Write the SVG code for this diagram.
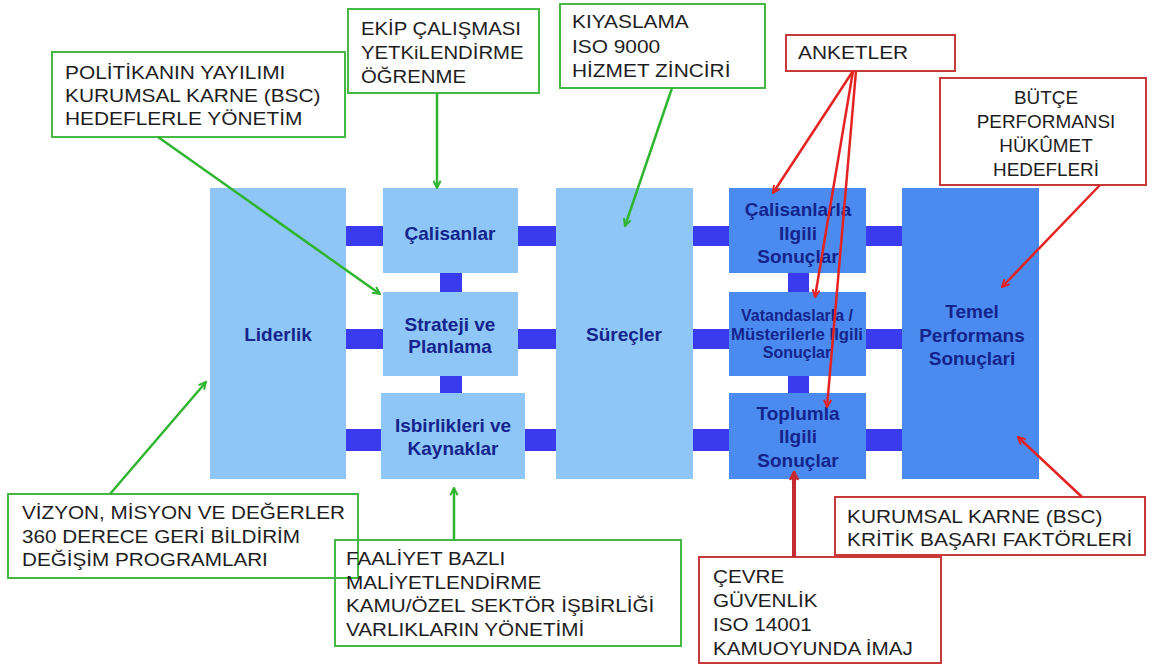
<svg xmlns="http://www.w3.org/2000/svg" width="1154" height="669" viewBox="0 0 1154 669">
<style>
.blk{fill:#8DC6F7}
.res{fill:#4B8BF0}
.bar{fill:#3A3AEE}
.bt{font-family:"Liberation Sans",Arial,sans-serif;font-weight:bold;font-size:19px;fill:#14248c;text-anchor:middle}
.bs{font-size:16px}
.gbox{fill:none;stroke:#45b845;stroke-width:2}
.rbox{fill:none;stroke:#c83a3a;stroke-width:2}
.lt{font-family:"Liberation Sans",Arial,sans-serif;font-size:18px;fill:#1e1e1e}
.gl{stroke:#2fb52f;stroke-width:2.5;fill:none}
.rl{stroke:#e52222;stroke-width:2.5;fill:none}
.rl2{stroke:#c42a2e;stroke-width:4;fill:none}
</style>
<defs>
<marker id="ag" viewBox="0 0 10 10" refX="9" refY="5" markerWidth="9" markerHeight="9" markerUnits="userSpaceOnUse" orient="auto"><path d="M1,1 L9,5 L1,9" fill="none" stroke="#2fb52f" stroke-width="2.2"/></marker>
<marker id="ar" viewBox="0 0 10 10" refX="9" refY="5" markerWidth="9" markerHeight="9" markerUnits="userSpaceOnUse" orient="auto"><path d="M1,1 L9,5 L1,9" fill="none" stroke="#e52222" stroke-width="2.2"/></marker>
<marker id="ar2" viewBox="0 0 10 10" refX="9" refY="5" markerWidth="10" markerHeight="10" markerUnits="userSpaceOnUse" orient="auto"><path d="M1,1 L9,5 L1,9" fill="none" stroke="#c42a2e" stroke-width="2.6"/></marker>
</defs>
<rect width="1154" height="669" fill="#ffffff"/>

<g id="bars">
<rect class="bar" x="346" y="226" width="37" height="20"/>
<rect class="bar" x="346" y="329" width="37" height="20"/>
<rect class="bar" x="346" y="429" width="37" height="22"/>
<rect class="bar" x="518" y="226" width="38" height="20"/>
<rect class="bar" x="518" y="329" width="38" height="20"/>
<rect class="bar" x="525" y="429" width="31" height="22"/>
<rect class="bar" x="693" y="226" width="36" height="20"/>
<rect class="bar" x="693" y="329" width="36" height="20"/>
<rect class="bar" x="693" y="429" width="36" height="22"/>
<rect class="bar" x="866" y="226" width="36" height="20"/>
<rect class="bar" x="866" y="329" width="36" height="20"/>
<rect class="bar" x="866" y="429" width="36" height="22"/>
<rect class="bar" x="440" y="273" width="22" height="19"/>
<rect class="bar" x="440" y="376" width="22" height="17"/>
<rect class="bar" x="788" y="273" width="21" height="19"/>
<rect class="bar" x="788" y="376" width="21" height="17"/>
</g>

<g id="liderlik"><rect class="blk" x="210" y="188" width="136" height="291"/><text class="bt" x="278" y="341">Liderlik</text></g>
<g id="calisanlar"><rect class="blk" x="383" y="188" width="135" height="85"/><text class="bt" x="450" y="240">Çalisanlar</text></g>
<g id="strateji"><rect class="blk" x="383" y="292" width="135" height="84"/><text class="bt" x="450" y="331">Strateji ve</text><text class="bt" x="450" y="353">Planlama</text></g>
<g id="isbirlikleri"><rect class="blk" x="381" y="393" width="144" height="86"/><text class="bt" x="453" y="432">Isbirlikleri ve</text><text class="bt" x="453" y="455">Kaynaklar</text></g>
<g id="surecler"><rect class="blk" x="556" y="188" width="137" height="291"/><text class="bt" x="624" y="341">Süreçler</text></g>
<g id="calisanlarla"><rect class="res" x="729" y="188" width="137" height="85"/><text class="bt" x="798" y="216">Çalisanlarla</text><text class="bt" x="798" y="240">Ilgili</text><text class="bt" x="798" y="263">Sonuçlar</text></g>
<g id="vatandaslarla"><rect class="res" x="729" y="292" width="137" height="84"/><text class="bt bs" x="797" y="321">Vatandaslarla /</text><text class="bt bs" x="797" y="340" textLength="132" lengthAdjust="spacingAndGlyphs">Müsterilerle Ilgili</text><text class="bt bs" x="797" y="358">Sonuçlar</text></g>
<g id="toplumla"><rect class="res" x="729" y="393" width="137" height="86"/><text class="bt" x="798" y="420">Toplumla</text><text class="bt" x="798" y="443">Ilgili</text><text class="bt" x="798" y="467">Sonuçlar</text></g>
<g id="temel"><rect class="res" x="902" y="188" width="137" height="291"/><text class="bt" x="972" y="318">Temel</text><text class="bt" x="972" y="342">Performans</text><text class="bt" x="972" y="365">Sonuçlari</text></g>

<g id="lbl-politika"><rect class="gbox" x="52" y="52" width="293" height="85"/>
<text class="lt" transform="translate(65 0) scale(1.16 1)"><tspan x="0" y="79">POLİTİKANIN YAYILIMI</tspan><tspan x="0" y="102">KURUMSAL KARNE (BSC)</tspan><tspan x="0" y="125">HEDEFLERLE YÖNETİM</tspan></text></g>
<g id="lbl-ekip"><rect class="gbox" x="348" y="9" width="191" height="84"/>
<text class="lt" transform="translate(361 0) scale(1.13 1)"><tspan x="0" y="35">EKİP ÇALIŞMASI</tspan><tspan x="0" y="59">YETKiLENDİRME</tspan><tspan x="0" y="83">ÖĞRENME</tspan></text></g>
<g id="lbl-kiyaslama"><rect class="gbox" x="560" y="4" width="205" height="84"/>
<text class="lt" transform="translate(572 0) scale(1.16 1)"><tspan x="0" y="28">KIYASLAMA</tspan><tspan x="0" y="53">ISO 9000</tspan><tspan x="0" y="77">HİZMET ZİNCİRİ</tspan></text></g>
<g id="lbl-anketler"><rect class="rbox" x="786" y="35" width="169" height="36"/>
<text class="lt" transform="translate(798 0) scale(1.16 1)"><tspan x="0" y="59">ANKETLER</tspan></text></g>
<g id="lbl-butce"><rect class="rbox" x="940" y="78" width="206" height="107"/>
<text class="lt" text-anchor="middle" transform="translate(1046 0) scale(1.05 1)"><tspan x="0" y="104">BÜTÇE</tspan><tspan x="0" y="128">PERFORMANSI</tspan><tspan x="0" y="152">HÜKÛMET</tspan><tspan x="0" y="176">HEDEFLERİ</tspan></text></g>
<g id="lbl-vizyon"><rect class="gbox" x="8" y="494" width="350" height="84"/>
<text class="lt" transform="translate(22 0) scale(1.15 1)"><tspan x="0" y="519">VİZYON, MİSYON VE DEĞERLER</tspan><tspan x="0" y="543">360 DERECE GERİ BİLDİRİM</tspan><tspan x="0" y="566">DEĞİŞİM PROGRAMLARI</tspan></text></g>
<g id="lbl-faaliyet"><rect class="gbox" x="335" y="540" width="346" height="106"/>
<text class="lt" transform="translate(346 0) scale(1.15 1)"><tspan x="0" y="565">FAALİYET BAZLI</tspan><tspan x="0" y="589">MALİYETLENDİRME</tspan><tspan x="0" y="612">KAMU/ÖZEL SEKTÖR İŞBİRLİĞİ</tspan><tspan x="0" y="636">VARLIKLARIN YÖNETİMİ</tspan></text></g>
<g id="lbl-cevre"><rect class="rbox" x="699" y="557" width="242" height="106"/>
<text class="lt" transform="translate(713 0) scale(1.15 1)"><tspan x="0" y="583">ÇEVRE</tspan><tspan x="0" y="607">GÜVENLİK</tspan><tspan x="0" y="631">ISO 14001</tspan><tspan x="0" y="655">KAMUOYUNDA İMAJ</tspan></text></g>
<g id="lbl-kurumsal"><rect class="rbox" x="835" y="497" width="310" height="58"/>
<text class="lt" transform="translate(847 0) scale(1.16 1)"><tspan x="0" y="523">KURUMSAL KARNE (BSC)</tspan><tspan x="0" y="546">KRİTİK BAŞARI FAKTÖRLERİ</tspan></text></g>

<g id="connectors">
<line class="gl" x1="158" y1="137" x2="380" y2="294" marker-end="url(#ag)"/>
<line class="gl" x1="437" y1="93" x2="437" y2="188" marker-end="url(#ag)"/>
<line class="gl" x1="672" y1="88" x2="625" y2="226" marker-end="url(#ag)"/>
<line class="gl" x1="110" y1="494" x2="206" y2="382" marker-end="url(#ag)"/>
<line class="gl" x1="454" y1="540" x2="454" y2="488" marker-end="url(#ag)"/>
<line class="rl" x1="853" y1="71" x2="773" y2="193" marker-end="url(#ar)"/>
<line class="rl" x1="853" y1="71" x2="815" y2="297" marker-end="url(#ar)"/>
<line class="rl" x1="856" y1="71" x2="827" y2="407" marker-end="url(#ar)"/>
<line class="rl" x1="1100" y1="185" x2="1002" y2="287" marker-end="url(#ar)"/>
<line class="rl" x1="1082" y1="497" x2="1018" y2="437" marker-end="url(#ar)"/>
<line class="rl2" x1="794" y1="557" x2="794" y2="472" marker-end="url(#ar2)"/>
</g>
</svg>
